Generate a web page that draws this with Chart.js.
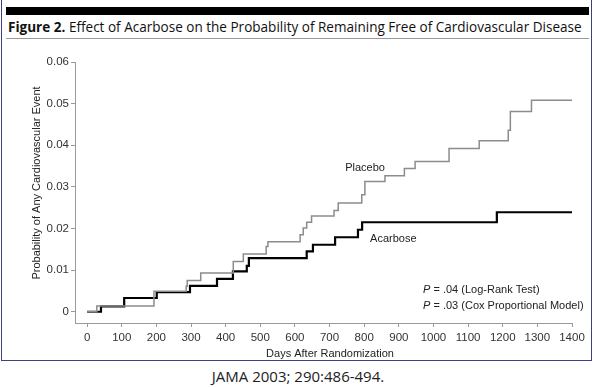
<!DOCTYPE html>
<html>
<head>
<meta charset="utf-8">
<script src="https://cdn.jsdelivr.net/npm/chart.js@4.4.1/dist/chart.umd.min.js"></script>
<style>
  html, body { margin: 0; padding: 0; background: #fff; }
  #page { position: relative; width: 600px; height: 387px; overflow: hidden; }
  #bar { position: absolute; left: 6px; top: 7px; width: 583px; height: 8px; background: #000; }
  #title { position: absolute; left: 8px; top: 16px; font: 15px "Open Sans", sans-serif; color: #111;
           white-space: nowrap; transform-origin: 0 0; }
  #rule { position: absolute; left: 6px; top: 38px; width: 583px; height: 1px; background: #999; }
  #frame { position: absolute; left: 1px; top: 0; width: 589px; height: 360px;
           border-left: 1.5px solid #3b4088; border-right: 1.5px solid #3b4088; border-bottom: 1.5px solid #3b4088; }
  #source { position: absolute; left: 0; width: 596px; top: 366px; text-align: center;
            font: 15px "Open Sans", sans-serif; color: #222; }
  canvas { position: absolute; left: 0; top: 0; }
</style>
</head>
<body>
<div id="page">
  <div id="frame"></div>
  <div id="bar"></div>
  <div id="title"><b>Figure 2.</b> Effect of Acarbose on the Probability of Remaining Free of Cardiovascular Disease</div>
  <div id="rule"></div>
  <div id="source">JAMA 2003; 290:486-494.</div>
  <canvas id="kmChart" width="600" height="387"></canvas>
</div>
<script>
// Kaplan-Meier steps (day, cumulative probability)
const acarboseDays = [0, 40, 107, 201, 297, 375, 421, 461, 467, 634, 652, 716, 782, 794, 1183, 1400];
const acarboseProb = [0, 0.0013, 0.0033, 0.0047, 0.0062, 0.0079, 0.0097, 0.0110, 0.0129, 0.0145, 0.0161,
                      0.0179, 0.0197, 0.0215, 0.0239, 0.0239];

const placeboDays = [0, 28, 193, 286, 289, 328, 422, 451, 517, 522, 615, 624, 634, 648, 713, 725, 793, 802,
                     860, 916, 947, 1045, 1132, 1216, 1222, 1283, 1400];
const placeboProb = [0, 0.0014, 0.0049, 0.0061, 0.0075, 0.0093, 0.0121, 0.0139, 0.0157, 0.0168, 0.0185, 0.0201,
                     0.0215, 0.0230, 0.0243, 0.0261, 0.0281, 0.0313, 0.0327, 0.0344, 0.0361, 0.0392, 0.0411,
                     0.0436, 0.0481, 0.0508, 0.0508];

const xTicks = [0, 100, 200, 300, 400, 500, 600, 700, 800, 900, 1000, 1100, 1200, 1300, 1400];
const yTicks = [0, 0.01, 0.02, 0.03, 0.04, 0.05, 0.06];

const xTitle = "Days After Randomization";
const yTitle = "Probability of Any Cardiovascular Event";

// text notes placed in data units
const notes = [
  { pre: "", text: "Placebo", day: 745, p: 0.0346 },
  { pre: "", text: "Acarbose", day: 817, p: 0.0175 },
  { pre: "P", text: " = .04 (Log-Rank Test)", day: 970, p: 0.0053 },
  { pre: "P", text: " = .03 (Cox Proportional Model)", day: 970, p: 0.0013 }
];

/* fit the title to the width of the bar */
const titleEl = document.getElementById("title");
titleEl.style.transform = "scaleX(" + (574 / titleEl.offsetWidth) + ")";

const toPoints = (days, probs) => days.map((d, i) => ({ x: d, y: probs[i] }));

const FONT = "'Liberation Sans', Arial, sans-serif";

const notesPlugin = {
  id: "notes",
  afterDraw(chart) {
    const { ctx, scales } = chart;
    ctx.save();
    ctx.fillStyle = "#222";
    ctx.textBaseline = "middle";
    ctx.textAlign = "left";
    notes.forEach(n => {
      let x = scales.x.getPixelForValue(n.day);
      const y = scales.y.getPixelForValue(n.p);
      if (n.pre) {
        ctx.font = "italic 11px " + FONT;
        ctx.fillText(n.pre, x, y);
        x += ctx.measureText(n.pre).width;
      }
      ctx.font = "11px " + FONT;
      ctx.fillText(n.text, x, y);
    });
    // axis titles
    ctx.textAlign = "center";
    ctx.font = "11px " + FONT;
    ctx.fillText(xTitle, 330, 354);
    ctx.translate(37, 183);
    ctx.rotate(-Math.PI / 2);
    ctx.fillText(yTitle, 0, 0);
    ctx.restore();
  }
};

new Chart(document.getElementById("kmChart"), {
  type: "line",
  data: {
    datasets: [
      {
        label: "Placebo",
        data: toPoints(placeboDays, placeboProb),
        borderColor: "#8c8c8c",
        borderWidth: 1.5,
        stepped: "before",
        pointRadius: 0,
        fill: false
      },
      {
        label: "Acarbose",
        data: toPoints(acarboseDays, acarboseProb),
        borderColor: "#000",
        borderWidth: 2.2,
        stepped: "before",
        pointRadius: 0,
        fill: false
      }
    ]
  },
  options: {
    responsive: false,
    devicePixelRatio: 1,
    animation: false,
    layout: { padding: { left: 0, right: 28, top: 62, bottom: 24 } },
    plugins: { legend: { display: false }, tooltip: { enabled: false } },
    scales: {
      x: {
        type: "linear",
        min: -35,
        max: 1400,
        afterBuildTicks: s => { s.ticks = xTicks.map(v => ({ value: v })); },
        afterFit: s => { s.height = 40; },
        grid: { drawOnChartArea: false, tickLength: 4, color: "#999" },
        border: { color: "#999", width: 1 },
        ticks: {
          padding: 4,
          color: "#333",
          font: { family: FONT, size: 11.5 },
          maxRotation: 0,
          callback: v => String(v)
        }
      },
      y: {
        type: "linear",
        min: -0.0027,
        max: 0.06,
        afterBuildTicks: s => { s.ticks = yTicks.map(v => ({ value: v })); },
        afterFit: s => { s.width = 75; },
        grid: { drawOnChartArea: false, tickLength: 4, color: "#999" },
        border: { color: "#999", width: 1 },
        ticks: {
          padding: 2,
          color: "#333",
          font: { family: FONT, size: 11.5 },
          callback: v => (v === 0 ? "0" : v.toFixed(2))
        }
      }
    }
  },
  plugins: [notesPlugin]
});
</script>
</body>
</html>
